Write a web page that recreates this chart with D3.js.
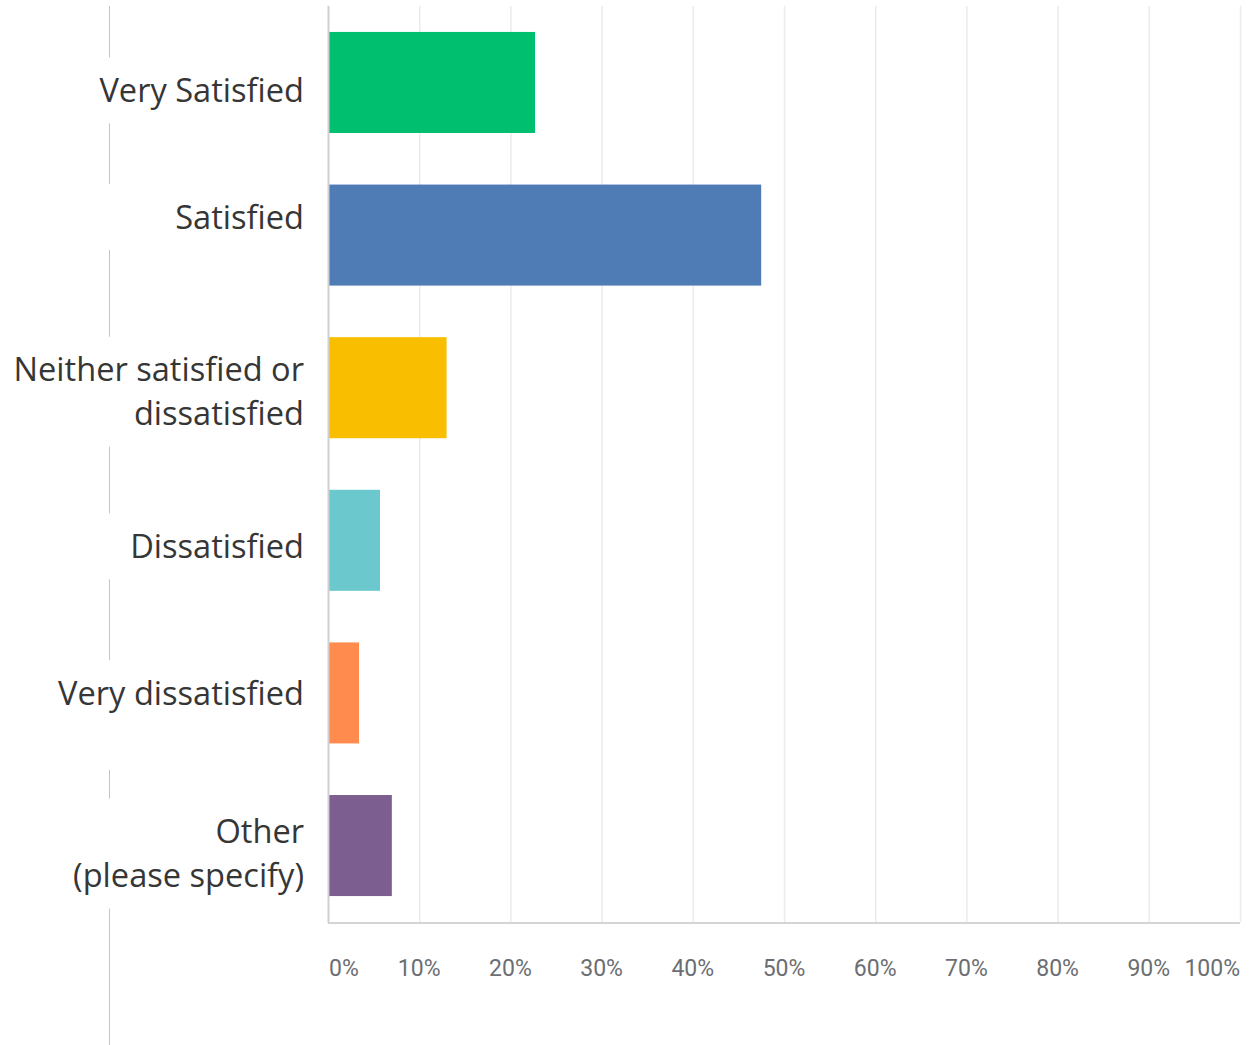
<!DOCTYPE html>
<html>
<head>
<meta charset="utf-8">
<script src="https://cdn.jsdelivr.net/npm/d3@7"></script>
<style>
  html, body { margin: 0; padding: 0; background: #fff; }
  svg { display: block; }
</style>
</head>
<body>
<svg id="chart" width="1250" height="1045"></svg>
<script>
// ---- data ----
const categories = ["Very Satisfied", "Satisfied", "Neither satisfied or dissatisfied", "Dissatisfied", "Very dissatisfied", "Other (please specify)"];
const labelLines = [["Very Satisfied"], ["Satisfied"], ["Neither satisfied or", "dissatisfied"], ["Dissatisfied"], ["Very dissatisfied", ""], ["Other", "(please specify)"]];
const values = [22.7, 47.5, 13.0, 5.7, 3.4, 7.0];
const colors = ["#00bf6f", "#507cb6", "#f9be00", "#6bc8cd", "#ff8b4f", "#7d5e90"];
const tickValues = [0, 10, 20, 30, 40, 50, 60, 70, 80, 90, 100];
const tickLabels = ["0%", "10%", "20%", "30%", "40%", "50%", "60%", "70%", "80%", "90%", "100%"];

// ---- layout ----
const plotLeft = 328, plotRight = 1240, plotTop = 6, plotBottom = 922;
const labelRight = 304, lineH = 44;
const labelShift = [8, -18, 4, 6, 22, 8];

const svg = d3.select("#chart");
const x = d3.scaleLinear().domain([0, 100]).range([plotLeft, plotRight]);
const y = d3.scaleBand().domain(categories).range([plotTop, plotBottom]).paddingInner(0.338).paddingOuter(0.17);

// gridlines
svg.append("g").selectAll("line").data(tickValues.slice(1)).join("line")
  .attr("x1", d => x(d) + 0.5).attr("x2", d => x(d) + 0.5)
  .attr("y1", plotTop).attr("y2", plotBottom)
  .attr("stroke", "#ebebeb").attr("stroke-width", 1.5);

// bars
svg.append("g").selectAll("rect").data(categories).join("rect")
  .attr("x", x(0))
  .attr("y", d => y(d))
  .attr("width", (d, i) => x(values[i]) - x(0))
  .attr("height", y.bandwidth())
  .attr("fill", (d, i) => colors[i]);

// axes lines
svg.append("line").attr("x1", x(0) + 0.5).attr("x2", x(0) + 0.5).attr("y1", plotTop).attr("y2", plotBottom + 1)
  .attr("stroke", "#d0d0d0").attr("stroke-width", 2);
svg.append("line").attr("x1", x(0)).attr("x2", x(100)).attr("y1", plotBottom + 1).attr("y2", plotBottom + 1)
  .attr("stroke", "#d4d4d4").attr("stroke-width", 2);

// tick labels
svg.append("g").selectAll("text").data(tickValues).join("text")
  .attr("x", (d, i) => x(d) + (i === 0 ? 1 : 0))
  .attr("y", 976)
  .attr("text-anchor", (d, i) => i === 0 ? "start" : (i === tickValues.length - 1 ? "end" : "middle"))
  .attr("font-family", "Roboto, sans-serif")
  .attr("font-size", 23)
  .attr("fill", "#6b6e72")
  .text((d, i) => tickLabels[i]);

// category labels and left divider segments
const blocks = categories.map((c, i) => {
  const n = labelLines[i].length;
  const center = y(c) + y.bandwidth() / 2 + labelShift[i];
  return { top: center - n * lineH / 2 - 11, bottom: center + n * lineH / 2 + 11, center, n, i };
});

const lab = svg.append("g");
blocks.forEach(b => {
  labelLines[b.i].forEach((t, k) => {
    lab.append("text")
      .attr("x", labelRight)
      .attr("y", b.center + (k - (b.n - 1) / 2) * lineH)
      .attr("dy", "0.36em")
      .attr("text-anchor", "end")
      .attr("font-family", "'Open Sans', sans-serif")
      .attr("font-size", 32.6)
      .attr("fill", "#363636")
      .text(t);
  });
});

const segs = [];
let prev = plotTop;
blocks.forEach(b => { segs.push([prev, b.top]); prev = b.bottom; });
segs.push([prev, 1045]);
svg.append("g").selectAll("line").data(segs).join("line")
  .attr("x1", 109.5).attr("x2", 109.5)
  .attr("y1", d => d[0]).attr("y2", d => d[1])
  .attr("stroke", "#c4c4c4").attr("stroke-width", 1);
</script>
</body>
</html>
